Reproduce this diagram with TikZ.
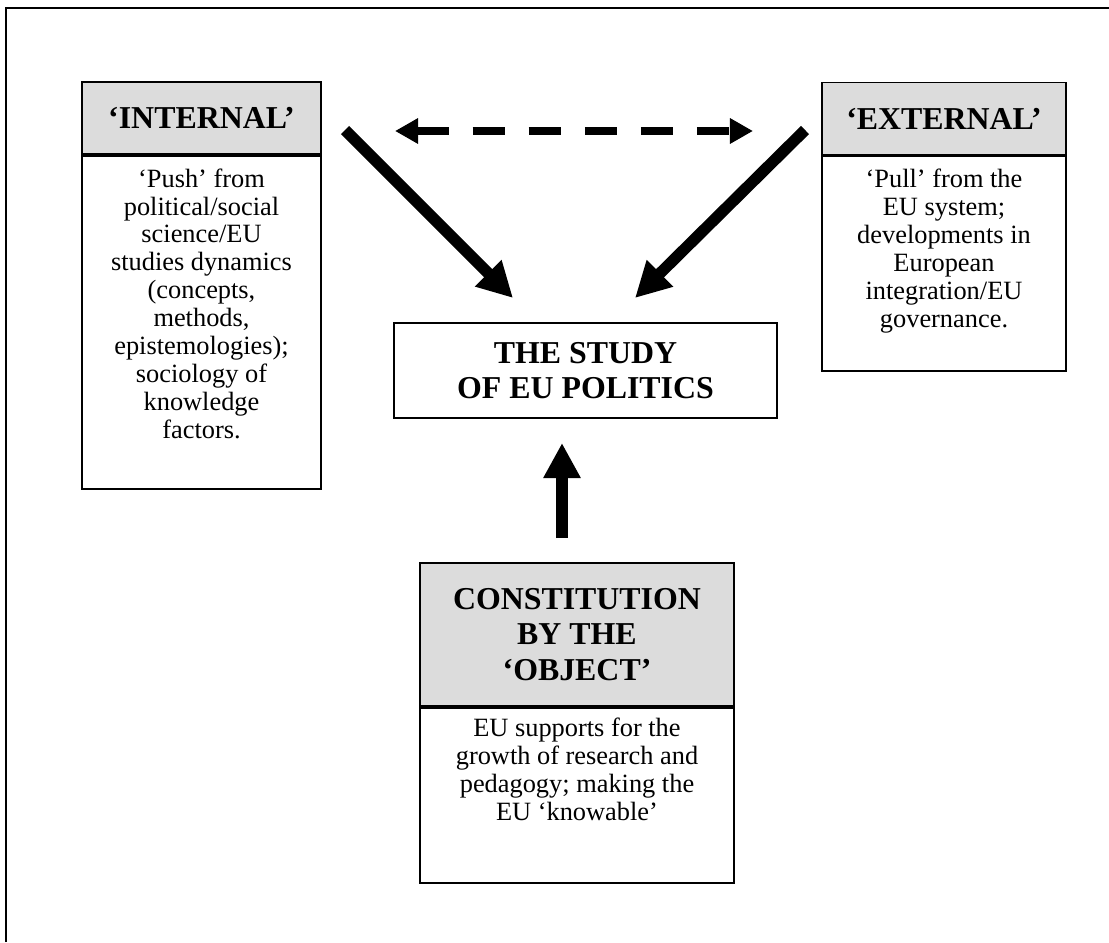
\documentclass[tikz,border=0pt]{standalone}
\usepackage{fontspec}
\setmainfont{Liberation Serif}
\usetikzlibrary{positioning,arrows.meta}
\definecolor{hdrgray}{RGB}{220,220,220}

\tikzset{
    headbox/.style={draw, line width=0.8pt, fill=hdrgray, align=center, inner sep=0pt,
        font=\fontsize{14.5}{16.1}\selectfont\bfseries},
    bodybox/.style={draw, line width=0.8pt, inner sep=0pt},
    bodytext/.style={align=center, inner sep=0pt, font=\fontsize{12}{12.7}\selectfont},
    fatarrow/.style={line width=5.2pt, -{Triangle[length=16pt,width=16pt]}},
    dasharrow/.style={line width=3.2pt, dash pattern=on 14.5pt off 11pt,
        {Triangle[length=10.5pt,width=11pt]}-{Triangle[length=10.5pt,width=11pt]}}
}

\begin{document}
\begin{tikzpicture}[x=0.455pt,y=-0.455pt]
        \useasboundingbox (0,0) rectangle (1109,942);
        % page frame
        \draw[line width=0.9pt] (6,942) -- (6,8) -- (1109,8);

        % 'Internal' box
        \node[headbox, minimum width=108.7pt, minimum height=32.8pt] (inthead) at (201.5,118) {‘INTERNAL’};
        \node[bodybox, minimum width=108.7pt, minimum height=151.5pt, below=0pt of inthead] (intbody) {};
        \node[bodytext, below=6pt of intbody.north] (inttext) {‘Push’ from\\political/social\\science/EU\\studies dynamics\\(concepts,\\methods,\\epistemologies);\\sociology of\\knowledge\\factors.};

        % 'External' box
        \node[headbox, minimum width=111pt, minimum height=32.8pt] (exthead) at (944,118.5) {‘EXTERNAL’};
        \node[bodybox, minimum width=111pt, minimum height=97.8pt, below=0pt of exthead] (extbody) {};
        \node[bodytext, below=6pt of extbody.north] (exttext) {‘Pull’ from the\\EU system;\\developments in\\European\\integration/EU\\governance.};

        % the study
        \node[headbox, fill=white, minimum width=174.3pt, minimum height=43.2pt] (study) at (585.5,370.5) {THE STUDY\\OF EU POLITICS};

        % constitution by the object
        \node[headbox, minimum width=142.9pt, minimum height=65.1pt] (objhead) at (577,634.5) {CONSTITUTION\\BY THE\\‘OBJECT’};
        \node[bodybox, minimum width=142.9pt, minimum height=79.6pt, below=0pt of objhead] (objbody) {};
        \node[bodytext, below=5pt of objbody.north] (objtext) {EU supports for the\\growth of research and\\pedagogy; making the\\EU ‘knowable’};

        % arrows
        \coordinate (intout) at (345,130);
        \coordinate (studyl) at (513,298);
        \coordinate (extout) at (805,130);
        \coordinate (studyr) at (635,298);
        \coordinate (objout) at (562,538);
        \coordinate (studyb) at (562,443);
        \coordinate (dashl) at (395,131);
        \coordinate (dashr) at (753,131);

        \draw[fatarrow] (intout) -- (studyl);
        \draw[fatarrow] (extout) -- (studyr);
        \draw[fatarrow] (objout) -- (studyb);
        \draw[dasharrow] (dashl) -- (dashr);
    \end{tikzpicture}
\end{document}
